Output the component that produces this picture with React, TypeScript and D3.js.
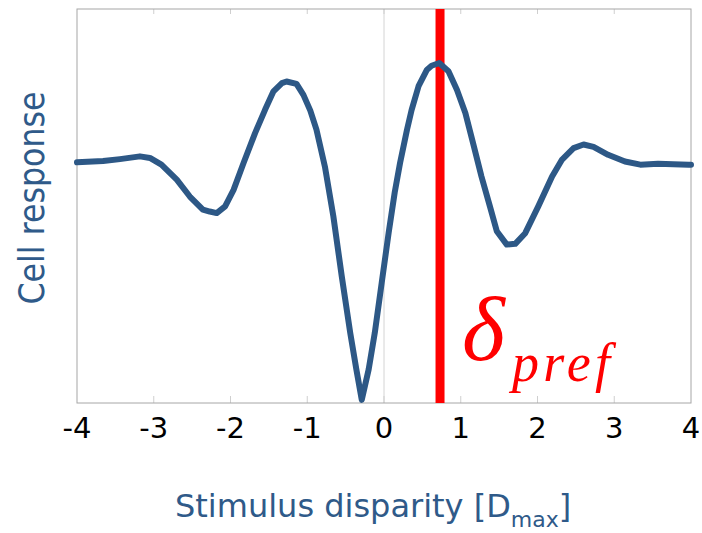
import React from "react";
import * as d3 from "d3";

// Disparity tuning curve: stimulus disparity (in units of D_max) vs. cell response
const disparity = [
  -4.0, -3.66, -3.44, -3.18, -3.05, -2.9, -2.7, -2.53, -2.36, -2.27, -2.18, -2.07,
  -1.96, -1.83, -1.68, -1.55, -1.44, -1.33, -1.27, -1.14, -1.05, -0.96, -0.88,
  -0.77, -0.66, -0.55, -0.44, -0.36, -0.29, -0.2, -0.12, -0.03, 0.06, 0.14, 0.21,
  0.3, 0.36, 0.45, 0.56, 0.62, 0.72, 0.84, 0.95, 1.06, 1.16, 1.27, 1.38, 1.47,
  1.6, 1.71, 1.84, 2.01, 2.19, 2.32, 2.47, 2.6, 2.73, 2.92, 3.14, 3.34, 3.57,
  3.97, 4.0,
];
const response = [
  0.611, 0.614, 0.619, 0.626, 0.622, 0.605, 0.567, 0.524, 0.491, 0.486, 0.482,
  0.499, 0.541, 0.609, 0.685, 0.744, 0.791, 0.812, 0.816, 0.81, 0.782, 0.742,
  0.694, 0.6, 0.474, 0.321, 0.178, 0.085, 0.008, 0.085, 0.178, 0.305, 0.431,
  0.535, 0.61, 0.694, 0.744, 0.804, 0.846, 0.856, 0.863, 0.842, 0.795, 0.736,
  0.66, 0.575, 0.499, 0.436, 0.402, 0.404, 0.431, 0.499, 0.575, 0.618, 0.647,
  0.656, 0.65, 0.63, 0.613, 0.605, 0.607, 0.605, 0.605,
];

// Preferred disparity marker
const preferredDisparity = 0.73;

const xTicks = [-4, -3, -2, -1, 0, 1, 2, 3, 4];

const W = 702;
const H = 533;
const plot = { left: 77, right: 691, top: 9, bottom: 403 };

const BLUE = "#2d5886";
const LABEL_BLUE = "#2f5a89";
const RED = "#ff0000";

export default function App() {
  const x = d3.scaleLinear().domain([-4, 4]).range([plot.left, plot.right]);
  const y = d3.scaleLinear().domain([0, 1]).range([plot.bottom, plot.top]);

  const points: [number, number][] = disparity.map((d, i) => [d, response[i]]);
  const line = d3
    .line<[number, number]>()
    .x((d) => x(d[0]))
    .y((d) => y(d[1]))
    .curve(d3.curveLinear);

  const innerTicks = xTicks.filter((t) => t !== -4 && t !== 4);

  return (
    <svg
      width={W}
      height={H}
      style={{ position: "absolute", left: 0, top: 0, background: "#fff" }}
    >
      {/* zero-disparity reference line */}
      <line
        x1={x(0)}
        x2={x(0)}
        y1={plot.top}
        y2={plot.bottom}
        stroke="#d4d4d4"
        strokeWidth={1}
      />
      {/* tick marks along top and bottom edges */}
      {innerTicks.map((t) => (
        <g key={t}>
          <line
            x1={x(t)}
            x2={x(t)}
            y1={plot.top}
            y2={plot.top + 5}
            stroke="#cfcfcf"
            strokeWidth={1}
          />
          <line
            x1={x(t)}
            x2={x(t)}
            y1={plot.bottom - 7}
            y2={plot.bottom}
            stroke="#cfcfcf"
            strokeWidth={1}
          />
        </g>
      ))}
      {/* plot frame */}
      <rect
        x={plot.left}
        y={plot.top}
        width={plot.right - plot.left}
        height={plot.bottom - plot.top}
        fill="none"
        stroke="#a6a6a6"
        strokeWidth={1}
      />

      {/* preferred disparity */}
      <line
        x1={x(preferredDisparity)}
        x2={x(preferredDisparity)}
        y1={plot.top}
        y2={plot.bottom}
        stroke={RED}
        strokeWidth={9}
      />

      {/* tuning curve */}
      <path
        d={line(points) ?? ""}
        fill="none"
        stroke={BLUE}
        strokeWidth={6}
        strokeLinejoin="round"
        strokeLinecap="round"
      />

      {/* x tick labels */}
      {xTicks.map((t) => (
        <text
          key={t}
          x={x(t)}
          y={438}
          textAnchor="middle"
          fontFamily="'DejaVu Sans', sans-serif"
          fontSize={29}
          fill="#000"
        >
          {t}
        </text>
      ))}

      {/* axis titles */}
      <text
        x={175}
        y={517}
        fontFamily="'DejaVu Sans', sans-serif"
        fontSize={32}
        fill={LABEL_BLUE}
      >
        Stimulus disparity [D
        <tspan fontSize={22} dy={10}>
          max
        </tspan>
        <tspan dy={-10}>]</tspan>
      </text>
      <text
        transform="translate(44,198) rotate(-90)"
        textAnchor="middle"
        fontFamily="'DejaVu Sans', sans-serif"
        fontSize={35}
        fill={LABEL_BLUE}
        textLength={213}
        lengthAdjust="spacingAndGlyphs"
      >
        Cell response
      </text>

      {/* δ_pref annotation */}
      <text
        x={462}
        y={360}
        fontFamily="'Liberation Serif', 'Times New Roman', serif"
        fontStyle="italic"
        fontSize={92}
        fill={RED}
      >
        δ
      </text>
      <text
        x={512}
        y={381}
        fontFamily="'Liberation Serif', 'Times New Roman', serif"
        fontStyle="italic"
        fontSize={54}
        fill={RED}
        textLength={98}
        lengthAdjust="spacing"
      >
        pref
      </text>
    </svg>
  );
}
